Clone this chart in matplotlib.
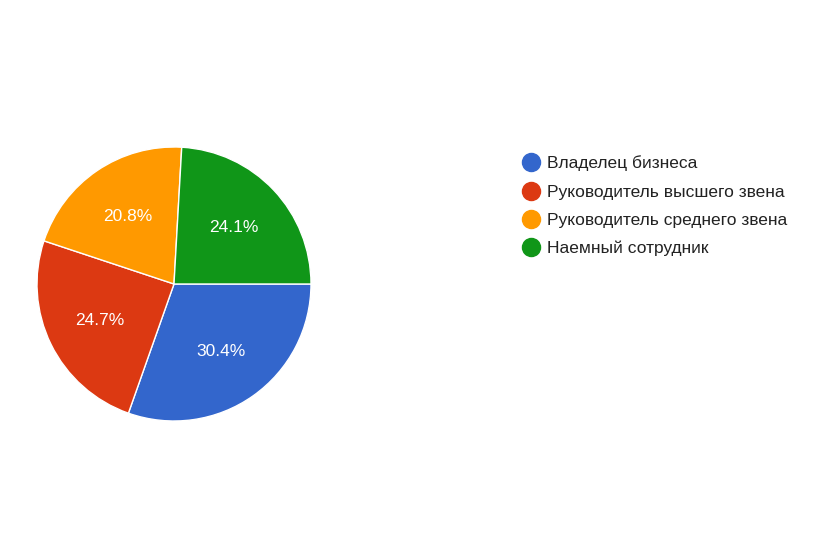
import matplotlib
matplotlib.use("Agg")
import matplotlib.pyplot as plt
from matplotlib.lines import Line2D

labels = ["Владелец бизнеса", "Руководитель высшего звена", "Руководитель среднего звена", "Наемный сотрудник"]
values = [30.4, 24.7, 20.8, 24.1]
colors = ["#3366cc", "#dc3912", "#ff9900", "#109618"]

plt.rcParams['font.family'] = ['Liberation Sans', 'DejaVu Sans']
fig = plt.figure(figsize=(8.32, 5.54), dpi=100)
W, H = 832, 554
cx, cy, r = 174, 284, 137
ax = fig.add_axes([(cx - r) / W, (H - cy - r) / H, 2 * r / W, 2 * r / H])
ax.pie(values, colors=colors, startangle=0, counterclock=False,
       autopct=lambda p: f"{p:.1f}%", pctdistance=0.6,
       wedgeprops=dict(edgecolor="white", linewidth=1),
       textprops=dict(color="white", fontsize=12.5))
ax.set_xlim(-1, 1)
ax.set_ylim(-1, 1)
ax.set_aspect("equal")

handles = [Line2D([], [], marker='o', linestyle='', markersize=13, markerfacecolor=c, markeredgecolor=c) for c in colors]
fig.legend(handles, labels, loc="upper left", bbox_to_anchor=(505 / W, 1 - 140 / H),
           frameon=False, fontsize=12.5, handletextpad=0.3, labelspacing=0.75,
           labelcolor="#222222", handlelength=1.2)
fig.savefig("out.png", dpi=100, facecolor="white")
